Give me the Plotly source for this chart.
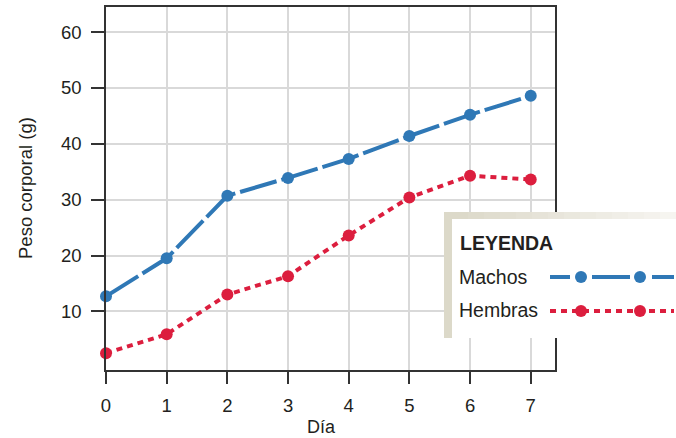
import plotly.graph_objects as go

dias = [0, 1, 2, 3, 4, 5, 6, 7]
machos = [12.7, 19.5, 30.7, 33.9, 37.3, 41.4, 45.2, 48.6]
hembras = [2.5, 5.9, 13.0, 16.3, 23.6, 30.4, 34.3, 33.6]
y_ticks = [10, 20, 30, 40, 50, 60]

BLUE = "#2f78b6"
RED = "#dc1e3e"
FONT = "Liberation Sans, Arial, sans-serif"
TXT = "#231f20"

W, H = 676, 438
L, R, T, B = 106, 555, 7, 370

fig = go.Figure()
fig.add_trace(go.Scatter(
    x=dias, y=machos, mode="lines+markers", name="Machos",
    line=dict(color=BLUE, width=4, dash="38px,5px"),
    marker=dict(color=BLUE, size=12), cliponaxis=False, showlegend=False))
fig.add_trace(go.Scatter(
    x=dias, y=hembras, mode="lines+markers", name="Hembras",
    line=dict(color=RED, width=4, dash="6px,5px"),
    marker=dict(color=RED, size=12), cliponaxis=False, showlegend=False))

def px(x):
    return (x - L) / (R - L)

def py(y):
    return (B - y) / (B - T)

shapes = []
# legend box: beige band with gradient on top, white interior
x0, y0, x1, y1 = 444, 212, 676, 338
shapes.append(dict(type="rect", xref="paper", yref="paper", x0=px(x0), x1=px(x0 + 8),
                   y0=py(y1), y1=py(y0), fillcolor="#dcd9c9", line=dict(width=0), layer="above"))
n = 14
c0 = (0xdc, 0xd9, 0xc9)
c1 = (0xf6, 0xf5, 0xf0)
for i in range(n):
    t = i / (n - 1)
    col = "rgb(%d,%d,%d)" % tuple(int(a + (b - a) * t) for a, b in zip(c0, c1))
    xa = x0 + 8 + (x1 - x0 - 8) * i / n
    xb = x0 + 8 + (x1 - x0 - 8) * (i + 1) / n
    shapes.append(dict(type="rect", xref="paper", yref="paper", x0=px(xa), x1=px(xb + 0.5),
                       y0=py(y0 + 7), y1=py(y0), fillcolor=col, line=dict(width=0), layer="above"))
shapes.append(dict(type="rect", xref="paper", yref="paper", x0=px(x0 + 8), x1=px(x1 + 2),
                   y0=py(y1), y1=py(y0 + 7), fillcolor="white", line=dict(width=0), layer="above"))

# legend samples
def circles(yc, color):
    for mx in (581, 640):
        r = 6
        shapes.append(dict(type="circle", xref="paper", yref="paper",
                           x0=px(mx - r), x1=px(mx + r), y0=py(yc + r), y1=py(yc - r),
                           fillcolor=color, line=dict(width=0), layer="above"))

for a, b in [(550, 570), (592, 630), (652, 674)]:
    shapes.append(dict(type="line", xref="paper", yref="paper", x0=px(a), x1=px(b),
                       y0=py(277), y1=py(277), line=dict(color=BLUE, width=4), layer="above"))
circles(277, BLUE)
shapes.append(dict(type="line", xref="paper", yref="paper", x0=px(550), x1=px(674),
                   y0=py(311), y1=py(311), line=dict(color=RED, width=4, dash="6px,5px"), layer="above"))
circles(311, RED)

def ann(text, x, y, size, xanchor="left", angle=0, yanchor="middle"):
    return dict(text=text, x=px(x), y=py(y), xref="paper", yref="paper",
                xanchor=xanchor, yanchor=yanchor, showarrow=False, textangle=angle,
                borderpad=0, font=dict(size=size, color=TXT, family=FONT))

annotations = [
    ann("<b>LEYENDA</b>", 459, 243, 19.5),
    ann("Machos", 458, 277, 19.5),
    ann("Hembras", 458, 310, 19.5),
    ann("Día", 321, 437.5, 18, "center", yanchor="bottom"),
    ann("Peso corporal (g)", 25, 188, 18.5, "center", -90),
]

fig.update_layout(
    width=W, height=H,
    margin=dict(l=L, r=W - R, t=T, b=H - B, autoexpand=False),
    paper_bgcolor="white", plot_bgcolor="white",
    font=dict(family=FONT, size=18.5, color=TXT),
    shapes=shapes, annotations=annotations,
    showlegend=False,
)
fig.update_xaxes(
    range=[0, 7.4], tickvals=dias, ticks="outside", ticklen=12, tickwidth=1.5,
    tickcolor="#333", showline=True, linecolor="#333", linewidth=1.5, mirror=True,
    showgrid=True, gridcolor="#d9d9d9", gridwidth=1.5, zeroline=False,
    automargin=False, tickfont=dict(size=18.5), ticklabelstandoff=6,
)
fig.update_yaxes(
    range=[-0.5, 64.5], tickvals=y_ticks, ticks="outside", ticklen=13, tickwidth=1.5,
    tickcolor="#333", showline=True, linecolor="#333", linewidth=1.5, mirror=True,
    showgrid=True, gridcolor="#d9d9d9", gridwidth=1.5, zeroline=False,
    automargin=False, tickfont=dict(size=18.5), ticklabelstandoff=6,
)

fig.write_html("out.html", config={"displayModeBar": False},
               post_script="document.body.style.margin='0px';document.body.style.overflow='hidden';")
